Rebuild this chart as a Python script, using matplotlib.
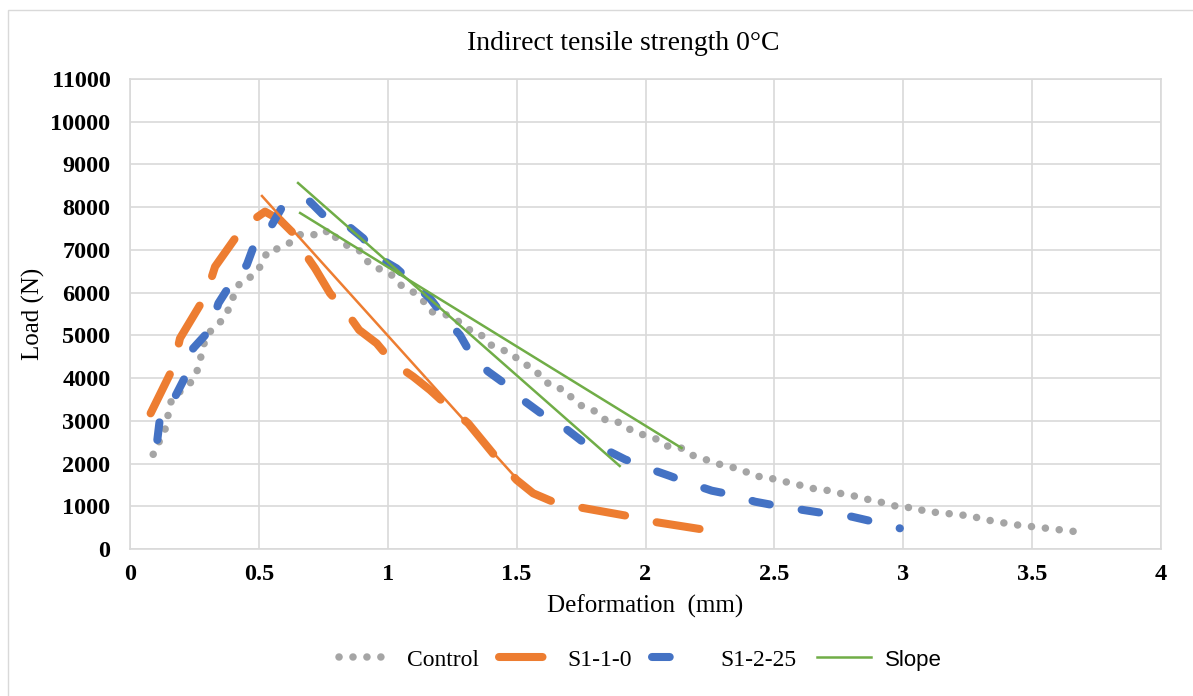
import matplotlib
matplotlib.use('Agg')
import matplotlib.pyplot as plt
from matplotlib.patches import Rectangle

# Control (gray dots)
control_x = [0.09, 0.14, 0.149, 0.162, 0.239, 0.265, 0.278, 0.291, 0.317, 0.359, 0.388, 0.405,
             0.429, 0.476, 0.512, 0.534, 0.569, 0.614, 0.653, 0.692, 0.735, 0.776, 0.805, 0.851,
             0.899, 0.928, 0.976, 1.015, 1.05, 1.097, 1.135, 1.17, 1.229, 1.267, 1.312, 1.358,
             1.387, 1.436, 1.478, 1.517, 1.567, 1.598, 1.638, 1.69, 1.72, 1.763, 1.81, 1.849,
             1.906, 1.946, 1.994, 2.037, 2.082, 2.134, 2.179, 2.231, 2.272, 2.325, 2.373, 2.418,
             2.476, 2.521, 2.579, 2.622, 2.67, 2.726, 2.777, 2.832, 2.881, 2.939, 2.987, 3.045,
             3.093, 3.151, 3.204, 3.262, 3.304, 3.359, 3.411, 3.466, 3.524, 3.58, 3.637, 3.693]
control_y = [2216, 2855, 3183, 3518, 3916, 4229, 4580, 4891, 5142, 5360, 5671, 5984,
             6256, 6389, 6662, 6982, 7021, 7138, 7349, 7388, 7326, 7482, 7232, 7076,
             6959, 6670, 6530, 6413, 6179, 6023, 5828, 5554, 5477, 5360, 5142, 5048,
             4814, 4674, 4596, 4362, 4229, 3995, 3799, 3721, 3487, 3307, 3214, 2996,
             2957, 2769, 2668, 2590, 2411, 2380, 2200, 2099, 2006, 1926, 1865, 1709,
             1678, 1592, 1538, 1444, 1397, 1357, 1264, 1224, 1123, 1070, 967, 975,
             858, 858, 796, 788, 695, 648, 585, 546, 508, 468, 429, 390]

# S1-1-0 (orange dashes)
s110_x = [0.08, 0.168, 0.194, 0.295, 0.33, 0.44, 0.524, 0.582, 0.634, 0.66, 0.718, 0.776,
          0.834, 0.889, 0.957, 1.02, 1.099, 1.164, 1.228, 1.312, 1.429, 1.5, 1.564, 1.655,
          1.765, 1.946, 2.037, 2.235]
s110_y = [3175, 4252, 4931, 5945, 6608, 7545, 7896, 7700, 7388, 7076, 6569, 5984,
          5594, 5126, 4814, 4360, 4033, 3721, 3370, 2942, 2083, 1615, 1304, 1070,
          952, 757, 632, 445]

# S1-2-25 (blue dashes)
s1225_x = [0.106, 0.116, 0.175, 0.22, 0.245, 0.31, 0.343, 0.388, 0.453, 0.485, 0.55, 0.595,
           0.692, 0.756, 0.834, 0.905, 0.957, 1.034, 1.106, 1.164, 1.228, 1.28, 1.332, 1.39,
           1.474, 1.528, 1.616, 1.681, 1.759, 1.83, 1.92, 1.992, 2.095, 2.16, 2.257, 2.34,
           2.425, 2.515, 2.612, 2.696, 2.8, 2.884, 2.987]
s1225_y = [2552, 3058, 3566, 4096, 4696, 5126, 5750, 6179, 6647, 7169, 7583, 8051,
           8168, 7779, 7623, 7272, 6843, 6569, 6179, 5867, 5360, 5009, 4463, 4150,
           3783, 3471, 3081, 2862, 2497, 2372, 2099, 1926, 1709, 1561, 1365, 1264,
           1107, 1006, 913, 835, 757, 640, 484]

# slope lines (start, end)
slope_orange_x = [0.512, 1.505]
slope_orange_y = [8262, 1615]
slope_g1_x = [0.652, 1.90]
slope_g1_y = [8566, 1943]
slope_g2_x = [0.66, 2.14]
slope_g2_y = [7864, 2364]

gray = '#A5A5A5'
orange = '#ED7D31'
blue = '#4472C4'
green = '#70AD47'
grid_c = '#D9D9D9'

plt.rcParams['font.family'] = ['Liberation Serif', 'DejaVu Serif']

fig = plt.figure(figsize=(11.93, 6.96), dpi=100)
fig.patches.append(Rectangle((8 / 1193, -0.01), 1.0, 1 - 10 / 696 + 0.01,
                             transform=fig.transFigure, fill=False,
                             edgecolor=grid_c, linewidth=1))
ax = fig.add_axes([130 / 1193, 1 - 549 / 696, (1161 - 130) / 1193, (549 - 79) / 696])

ax.plot(control_x, control_y, color=gray, lw=5.4, linestyle=(0, (0.01, 1.85)),
        dash_capstyle='round', label='Control', zorder=3)
ax.plot(s110_x, s110_y, color=orange, lw=5.8, linestyle=(0, (5.4, 4.0)),
        dash_capstyle='round', solid_joinstyle='round', label='S1-1-0', zorder=4)
ax.plot(s1225_x, s1225_y, color=blue, lw=5.8, linestyle=(0, (2.2, 4.0)),
        dash_capstyle='round', label='S1-2-25', zorder=4)
ax.plot(slope_orange_x, slope_orange_y, color=orange, lw=1.8, zorder=5)
ax.plot(slope_g1_x, slope_g1_y, color=green, lw=1.8, label='Slope', zorder=5)
ax.plot(slope_g2_x, slope_g2_y, color=green, lw=1.8, zorder=5)

ax.set_xlim(0, 4)
ax.set_ylim(0, 11000)
ax.set_xticks([0, 0.5, 1, 1.5, 2, 2.5, 3, 3.5, 4])
ax.set_xticklabels(['0', '0.5', '1', '1.5', '2', '2.5', '3', '3.5', '4'])
ax.set_yticks(range(0, 11001, 1000))
ax.grid(True, color=grid_c, linewidth=1.2)
ax.set_axisbelow(True)
for s in ax.spines.values():
    s.set_color(grid_c)
    s.set_linewidth(1.2)
ax.tick_params(length=0, labelsize=17.5)
ax.tick_params(axis='x', pad=11)
ax.tick_params(axis='y', pad=14)
for lbl in ax.get_xticklabels() + ax.get_yticklabels():
    lbl.set_fontweight('bold')

ax.set_xlabel('Deformation  (mm)', fontsize=18, labelpad=7)
ax.set_ylabel('Load (N)', fontsize=18, labelpad=4)
fig.text(623 / 1193, 1 - 44 / 696, 'Indirect tensile strength 0°C', fontsize=20,
         ha='center', va='center')

leg = ax.legend(loc='upper center', bbox_to_anchor=(0.495, -0.168), ncol=4, frameon=False,
                fontsize=17, handlelength=2.3, columnspacing=0.85, handletextpad=0.6)
leg.get_texts()[3].set_family('Liberation Sans')
leg.get_texts()[3].set_fontsize(16)
leg.legend_handles[2].set_linestyle((0, (2.2, 8.0)))

fig.savefig('out.png', dpi=100)
